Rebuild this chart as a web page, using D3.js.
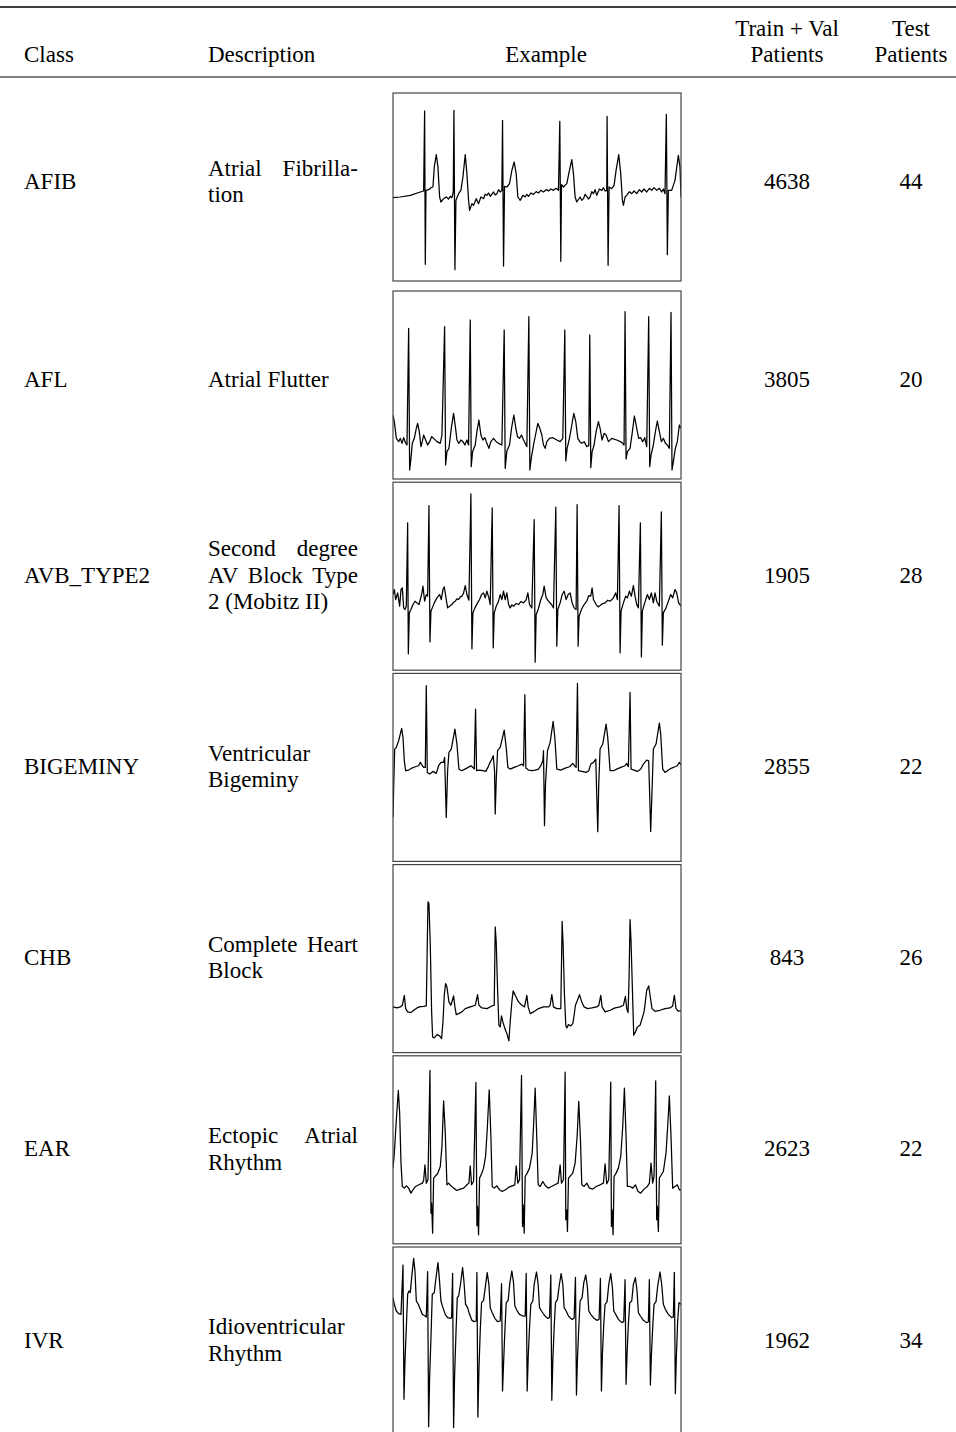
<!DOCTYPE html>
<html>
<head>
<meta charset="utf-8">
<script src="https://cdn.jsdelivr.net/npm/d3@7"></script>
<style>
  body { margin: 0; background: #fff; }
  text { font-family: "Liberation Serif", "Times New Roman", serif; font-size: 23px; fill: #000; }
</style>
</head>
<body>
<script>
// table contents
var classes = ["AFIB", "AFL", "AVB_TYPE2", "BIGEMINY", "CHB", "EAR", "IVR"];
var descriptions = [
  ["Atrial Fibrilla-", "tion"],
  ["Atrial Flutter"],
  ["Second degree", "AV Block Type", "2 (Mobitz II)"],
  ["Ventricular", "Bigeminy"],
  ["Complete Heart", "Block"],
  ["Ectopic Atrial", "Rhythm"],
  ["Idioventricular", "Rhythm"]
];
var trainVal = [4638, 3805, 1905, 2855, 843, 2623, 1962];
var testPatients = [44, 20, 28, 22, 26, 22, 34];
var headers = ["Class", "Description", "Example", "Train + Val|Patients", "Test|Patients"];

// ECG strips: [sample, amplitude]
var afibTrace = [[0,-32],[22,-30],[52,-25],[82,-15],[92,-12],[95,228],[97,-232],[99,-10],[107,-8],[114,-2],[120,0],[124,60],[130,97],[135,60],[140,-30],[144,-45],[152,-35],[160,-30],[167,-36],[172,-28],[177,-32],[181,-15],[183,230],[186,-248],[189,-40],[197,-20],[204,-10],[210,30],[217,97],[222,40],[227,-40],[230,-70],[237,-50],[242,-55],[250,-35],[257,-50],[264,-30],[272,-35],[277,-22],[282,-25],[287,-18],[292,-28],[302,-15],[307,-24],[312,-20],[317,-8],[322,-15],[327,-10],[329,200],[332,-237],[335,2],[342,0],[350,10],[357,50],[364,75],[370,40],[375,-30],[382,-40],[390,-25],[397,-30],[402,-22],[407,-28],[414,-18],[422,-22],[430,-14],[437,-18],[444,-10],[452,-15],[460,-8],[467,-12],[474,-6],[482,-10],[490,-4],[497,-10],[501,197],[504,-223],[506,7],[512,0],[522,10],[530,50],[537,82],[542,40],[547,-30],[552,-45],[562,-30],[567,-40],[572,-35],[577,-22],[582,-28],[587,-36],[592,-30],[597,-14],[602,-20],[607,-8],[612,-25],[620,-6],[627,-10],[632,-2],[637,-12],[642,-10],[643,212],[646,-235],[649,0],[657,-5],[664,5],[670,50],[678,97],[684,40],[689,-40],[692,-55],[697,-30],[702,-25],[710,-14],[717,-20],[724,-12],[732,-20],[740,-8],[747,-15],[754,-6],[762,-15],[770,-4],[777,-10],[784,-2],[792,-10],[800,-4],[807,-15],[812,-6],[817,-20],[821,218],[824,-203],[827,-10],[837,-10],[847,20],[857,95],[862,60],[865,-30]];

var aflTrace = [[0,-90],[4,-110],[10,-160],[17,-170],[22,-160],[27,-175],[32,-158],[37,-172],[42,-180],[47,170],[50,-255],[54,-220],[58,-175],[64,-160],[70,-130],[74,-115],[79,-140],[84,-185],[88,-170],[92,-150],[98,-165],[104,-180],[110,-170],[116,-155],[122,-160],[132,-170],[142,-175],[147,-150],[155,175],[158,-240],[162,-200],[168,-190],[175,-130],[182,-85],[188,-130],[192,-165],[198,-175],[204,-165],[210,-170],[216,-180],[222,-165],[227,-180],[232,195],[235,-245],[239,-200],[247,-180],[252,-140],[258,-105],[264,-150],[270,-165],[276,-158],[282,-175],[288,-190],[294,-170],[302,-160],[310,-170],[317,-175],[327,-180],[334,165],[337,-250],[342,-198],[350,-180],[356,-130],[363,-90],[369,-130],[374,-155],[380,-160],[386,-150],[392,-165],[397,-175],[402,-185],[408,205],[411,-255],[416,-215],[422,-180],[428,-150],[435,-115],[441,-130],[447,-150],[452,-180],[457,-190],[462,-170],[470,-160],[480,-158],[492,-165],[502,-170],[510,-160],[516,165],[519,-228],[523,-190],[530,-160],[537,-120],[543,-85],[549,-110],[555,-160],[561,-170],[567,-175],[574,-170],[582,-185],[588,-182],[591,150],[594,-248],[598,-200],[604,-180],[610,-140],[617,-110],[622,-130],[628,-165],[634,-145],[640,-150],[647,-170],[657,-160],[672,-165],[687,-172],[694,-180],[697,220],[700,-222],[704,-200],[712,-190],[719,-140],[725,-93],[732,-130],[738,-160],[744,-158],[750,-170],[756,-158],[762,-185],[768,205],[771,-245],[775,-210],[782,-180],[788,-140],[794,-108],[800,-140],[806,-170],[812,-160],[818,-175],[824,-180],[830,-190],[835,218],[838,-255],[842,-230],[848,-190],[854,-170],[860,-120],[865,-130]];

var avbTrace = [[0,-55],[4,-40],[8,-70],[14,-50],[20,-90],[24,-40],[28,-35],[32,-95],[36,-100],[40,-90],[44,160],[46,-233],[49,-110],[54,-100],[60,-85],[66,-75],[72,-80],[78,-85],[82,-70],[87,-50],[90,-30],[95,-75],[100,-55],[104,-60],[108,212],[111,-197],[114,-105],[118,-95],[124,-80],[132,-65],[140,-55],[145,-70],[150,-40],[154,-32],[160,-70],[164,-95],[170,-90],[177,-85],[182,-78],[187,-75],[192,-68],[197,-70],[202,-62],[207,-60],[212,-50],[217,-28],[222,-55],[228,-72],[234,247],[237,-218],[240,-110],[246,-95],[254,-80],[260,-70],[266,-55],[272,-50],[277,-65],[282,-45],[288,-65],[292,-85],[298,205],[301,-215],[304,-110],[310,-90],[317,-75],[322,-55],[327,-70],[332,-45],[337,-70],[342,-50],[347,-85],[352,-95],[357,-86],[362,-90],[370,-82],[377,-85],[384,-76],[392,-80],[400,-70],[405,-50],[410,-85],[417,-95],[424,170],[427,-258],[430,-115],[436,-100],[444,-70],[450,-55],[454,-30],[460,-65],[467,-75],[476,-85],[482,-95],[489,207],[492,-210],[495,-100],[502,-80],[508,-55],[514,-45],[520,-70],[526,-55],[532,-50],[538,-80],[544,-95],[550,-100],[553,215],[556,-210],[559,-120],[566,-100],[574,-85],[582,-75],[588,-58],[594,-60],[598,-35],[602,-70],[610,-85],[616,-92],[622,-88],[630,-82],[637,-80],[645,-72],[652,-75],[662,-65],[669,-50],[674,-70],[679,212],[682,-230],[685,-105],[692,-80],[699,-60],[704,-65],[710,-45],[716,-60],[722,-28],[727,-60],[732,-85],[737,-95],[743,160],[746,-242],[749,-105],[756,-80],[764,-55],[770,-70],[776,-50],[782,-80],[787,-50],[792,-75],[800,-90],[806,193],[809,-207],[812,-110],[820,-95],[827,-75],[834,-55],[840,-65],[847,-40],[852,-50],[858,-80],[865,-90]];

var bigeminyTrace = [[0,-150],[2,-60],[5,55],[10,60],[17,80],[26,117],[30,90],[34,20],[38,-10],[47,-8],[57,-2],[67,2],[77,5],[82,15],[87,7],[92,0],[97,0],[100,245],[103,-15],[110,-20],[120,-12],[130,-18],[137,5],[144,15],[152,15],[155,30],[160,-150],[164,-10],[168,45],[175,55],[186,115],[192,70],[198,-5],[206,-10],[216,-5],[226,0],[234,5],[240,0],[244,-5],[248,175],[251,-10],[260,-8],[270,-10],[279,-12],[285,0],[290,12],[297,25],[301,35],[305,-10],[307,-140],[310,-40],[314,50],[322,60],[334,112],[340,60],[345,0],[352,-5],[364,0],[377,5],[387,10],[392,5],[396,218],[399,-2],[407,-8],[417,-10],[427,-8],[437,-5],[444,5],[450,20],[452,50],[455,-175],[458,-50],[464,50],[472,75],[481,138],[486,90],[492,-5],[504,-8],[517,-2],[530,2],[540,12],[545,5],[550,0],[554,252],[557,-10],[567,-12],[580,-15],[588,-10],[594,10],[602,15],[609,25],[615,-193],[618,-50],[622,55],[630,70],[640,130],[645,90],[652,-10],[662,-10],[672,-5],[684,0],[697,5],[702,12],[707,2],[712,225],[715,-5],[724,-8],[734,-12],[744,-5],[752,10],[762,22],[768,20],[774,-192],[778,-70],[782,55],[790,70],[800,133],[804,100],[810,-5],[817,-15],[827,-8],[837,-2],[847,2],[854,5],[860,15],[865,8]];

var chbTrace = [[0,-145],[12,-148],[22,-145],[28,-140],[34,-110],[38,-150],[44,-160],[54,-162],[62,-155],[72,-148],[82,-144],[92,-143],[100,-142],[105,170],[108,165],[112,40],[116,-160],[119,-235],[124,-238],[132,-228],[140,-232],[146,-240],[150,-190],[154,-110],[158,-75],[162,-85],[168,-130],[174,-140],[182,-112],[186,-145],[190,-168],[197,-165],[207,-160],[217,-150],[232,-145],[247,-140],[254,-108],[258,-140],[267,-148],[282,-150],[297,-142],[304,-140],[307,95],[310,50],[314,-90],[318,-200],[322,-205],[326,-172],[330,-190],[336,-210],[342,-225],[348,-247],[352,-190],[357,-130],[361,-97],[367,-110],[377,-130],[387,-140],[395,-145],[402,-110],[406,-145],[412,-165],[422,-160],[437,-150],[452,-145],[467,-145],[472,-140],[477,-108],[482,-145],[492,-150],[504,-150],[508,112],[511,40],[515,-110],[519,-200],[522,-208],[527,-198],[534,-202],[540,-195],[544,-170],[548,-140],[554,-125],[560,-108],[567,-130],[574,-145],[584,-150],[597,-148],[612,-145],[618,-140],[624,-110],[628,-145],[637,-160],[652,-155],[667,-148],[682,-145],[692,-140],[698,-113],[702,-150],[706,-162],[709,-60],[712,117],[715,50],[719,-90],[723,-230],[728,-220],[734,-205],[742,-200],[748,-180],[754,-160],[758,-130],[762,-95],[768,-82],[772,-110],[778,-150],[787,-158],[802,-155],[817,-150],[832,-148],[840,-142],[845,-110],[850,-150],[857,-158],[865,-156]];

var earTrace = [[0,-55],[4,-10],[10,90],[16,178],[20,110],[24,-40],[28,-110],[34,-115],[40,-108],[47,-115],[54,-130],[60,-120],[68,-110],[78,-105],[88,-100],[92,-92],[96,-45],[100,-100],[105,-90],[111,238],[114,-190],[116,-160],[119,-250],[122,-85],[128,-78],[134,-72],[142,-50],[147,10],[152,147],[157,50],[162,-105],[167,-100],[174,-108],[182,-115],[192,-122],[202,-118],[212,-115],[222,-105],[228,-100],[232,-48],[236,-105],[242,-95],[249,202],[252,-228],[254,-170],[257,-255],[260,-85],[266,-72],[272,-55],[278,-20],[283,60],[289,180],[294,40],[298,-110],[304,-115],[312,-108],[320,-120],[328,-125],[338,-120],[348,-112],[358,-108],[366,-105],[370,-48],[375,-100],[380,-90],[386,223],[389,-230],[391,-165],[394,-250],[397,-80],[403,-70],[410,-55],[418,-10],[423,90],[427,185],[432,30],[436,-105],[442,-110],[450,-95],[458,-108],[466,-115],[476,-110],[486,-105],[496,-100],[502,-45],[506,-100],[512,-90],[517,233],[519,-210],[522,-180],[524,-245],[527,-85],[533,-78],[540,-70],[547,-40],[553,40],[558,145],[563,30],[567,-105],[574,-110],[582,-100],[590,-115],[600,-118],[610,-110],[622,-105],[632,-100],[637,-42],[642,-102],[648,-90],[654,203],[656,-230],[658,-180],[661,-255],[664,-80],[670,-70],[677,-55],[684,-20],[690,70],[695,185],[700,40],[704,-110],[712,-110],[720,-115],[728,-105],[736,-125],[744,-130],[754,-118],[764,-110],[770,-100],[775,-40],[780,-100],[784,-80],[789,207],[792,-210],[794,-170],[797,-245],[800,-85],[806,-75],[812,-65],[820,-10],[825,70],[830,162],[835,40],[840,-115],[847,-110],[854,-105],[860,-120],[865,-120]];

var ivrTrace = [[0,130],[4,110],[10,90],[17,82],[24,80],[30,228],[33,-175],[36,-60],[40,40],[44,140],[48,150],[52,145],[56,190],[62,248],[66,210],[70,120],[76,110],[82,95],[88,80],[96,75],[100,72],[104,208],[107,-257],[110,-110],[114,10],[118,140],[124,145],[128,180],[135,235],[139,190],[144,120],[150,100],[157,80],[164,70],[172,68],[176,70],[179,203],[182,-260],[185,-105],[189,20],[193,130],[197,135],[202,165],[209,220],[213,180],[218,110],[224,100],[230,80],[237,62],[244,58],[250,60],[252,206],[255,-228],[258,-90],[262,30],[266,115],[272,122],[277,160],[283,205],[288,170],[292,100],[298,85],[306,68],[314,58],[322,60],[326,172],[329,-150],[332,-70],[336,30],[340,115],[346,122],[351,175],[357,210],[362,175],[366,105],[372,92],[380,80],[390,75],[397,75],[400,203],[403,-150],[406,-50],[410,40],[414,110],[420,120],[424,170],[431,207],[436,170],[440,100],[446,90],[454,78],[464,68],[470,70],[474,198],[477,-178],[480,-60],[484,40],[488,115],[494,125],[499,165],[505,202],[510,170],[514,100],[520,90],[527,75],[537,65],[544,68],[548,191],[551,-162],[554,-55],[558,40],[562,120],[568,130],[573,175],[579,198],[584,160],[588,90],[594,80],[602,70],[612,62],[619,65],[623,188],[626,-150],[629,-40],[633,50],[637,110],[643,118],[648,170],[654,202],[659,160],[663,90],[669,80],[677,65],[687,55],[693,58],[697,184],[700,-130],[703,-40],[707,50],[711,115],[717,120],[722,170],[728,190],[733,150],[737,85],[743,75],[752,62],[762,55],[767,58],[770,184],[773,-132],[776,-45],[780,40],[784,110],[790,118],[795,165],[802,207],[807,170],[812,110],[818,95],[827,80],[837,70],[842,72],[845,206],[848,-158],[851,-50],[855,60],[859,115],[865,110]];

var traces = [afibTrace, aflTrace, avbTrace, bigeminyTrace, chbTrace, earTrace, ivrTrace];

var WIDTH = 956, HEIGHT = 1432;
var CLASS_X = 24, DESC_X = 208, DESC_W = 150;
var BOX_X = 393, BOX_W = 288, BOX_H = 188;
var TRAIN_X = 787, TEST_X = 911;
var LINE_H = 26.5;

// box tops: first row sits a little lower under the header rule
function rowTop(i) { return i === 0 ? 93 : 291 + (i - 1) * 191.2; }
// text baseline relative to the box middle (later rows sit a bit lower)
function textShift(i) { return i < 2 ? 2 : 6.5; }

var svg = d3.select("body").append("svg")
  .attr("width", WIDTH)
  .attr("height", HEIGHT);

// rules
svg.append("line").attr("x1", 0).attr("x2", WIDTH).attr("y1", 7).attr("y2", 7)
  .attr("stroke", "#000").attr("stroke-width", 1.6);
svg.append("line").attr("x1", 0).attr("x2", WIDTH).attr("y1", 77).attr("y2", 77)
  .attr("stroke", "#000").attr("stroke-width", 1);

// header
var headerX = [CLASS_X, DESC_X, 546, TRAIN_X, TEST_X];
var headerAnchor = ["start", "start", "middle", "middle", "middle"];
headers.forEach(function(h, i) {
  var lines = h.split("|");
  lines.forEach(function(l, j) {
    svg.append("text")
      .attr("x", headerX[i])
      .attr("y", 62 - (lines.length - 1 - j) * 26.5)
      .attr("text-anchor", headerAnchor[i])
      .text(l);
  });
});

var x = d3.scaleLinear().domain([0, 865]).range([BOX_X, BOX_X + BOX_W]);

function justifyLine(g, line, xStart, y, width, justify) {
  var words = line.split(" ");
  if (!justify || words.length < 2) {
    g.append("text").attr("x", xStart).attr("y", y).text(line);
    return;
  }
  var nodes = words.map(function(w) {
    return g.append("text").attr("y", y).text(w);
  });
  var total = d3.sum(nodes, function(n) { return n.node().getComputedTextLength(); });
  var gap = (width - total) / (words.length - 1);
  var cx = xStart;
  nodes.forEach(function(n) {
    n.attr("x", cx);
    cx += n.node().getComputedTextLength() + gap;
  });
}

classes.forEach(function(c, i) {
  var top = rowTop(i);
  var mid = top + BOX_H / 2;
  var base = mid + textShift(i);
  var g = svg.append("g").attr("class", "row");

  g.append("text").attr("x", CLASS_X).attr("y", base).text(c);

  var desc = descriptions[i];
  desc.forEach(function(line, j) {
    var y = base + (j - (desc.length - 1) / 2) * LINE_H;
    justifyLine(g, line, DESC_X, y, DESC_W, j < desc.length - 1);
  });

  g.append("text").attr("x", TRAIN_X).attr("y", base).attr("text-anchor", "middle").text(trainVal[i]);
  g.append("text").attr("x", TEST_X).attr("y", base).attr("text-anchor", "middle").text(testPatients[i]);

  // example strip
  var y = d3.scaleLinear().domain([-282, 282]).range([top + BOX_H, top]);
  var clipId = "clip" + i;
  svg.append("clipPath").attr("id", clipId)
    .append("rect").attr("x", BOX_X).attr("y", top).attr("width", BOX_W).attr("height", BOX_H);

  var line = d3.line()
    .x(function(d) { return x(d[0]); })
    .y(function(d) { return y(d[1]); });

  g.append("path")
    .datum(traces[i])
    .attr("clip-path", "url(#" + clipId + ")")
    .attr("d", line)
    .attr("fill", "none")
    .attr("stroke", "#000")
    .attr("stroke-width", 1.25)
    .attr("stroke-linejoin", "round");

  g.append("rect")
    .attr("x", BOX_X).attr("y", top)
    .attr("width", BOX_W).attr("height", BOX_H)
    .attr("fill", "none")
    .attr("stroke", "#444")
    .attr("stroke-width", 1.2);
});
</script>
</body>
</html>
